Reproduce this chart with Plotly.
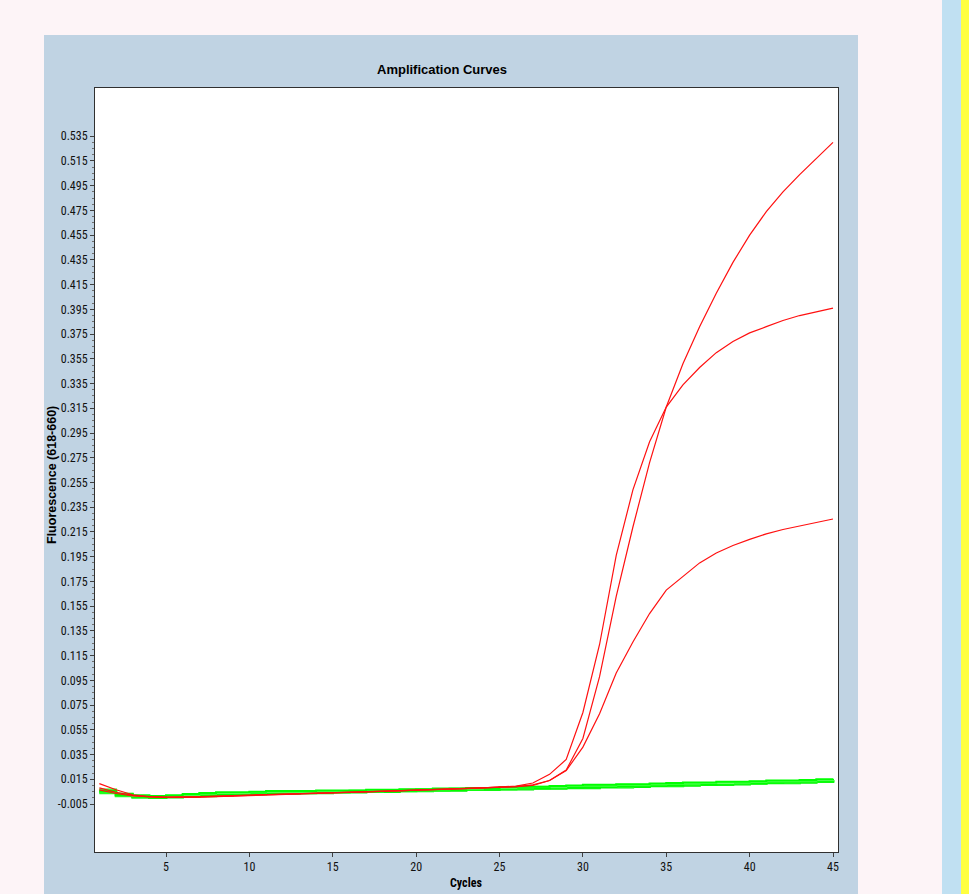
import plotly.graph_objects as go

cycles = list(range(1, 46))

red_a = [0.0065, 0.0035, 0.0015, 0.0007, 0.0003, 0.0005, 0.0008, 0.0012, 0.0018, 0.0022,
         0.0027, 0.0030, 0.0035, 0.0038, 0.0040, 0.0045, 0.0048, 0.0052, 0.0057, 0.0062,
         0.0066, 0.0070, 0.0075, 0.0080, 0.0085, 0.0090, 0.0100, 0.0140, 0.0225, 0.0480,
         0.0980, 0.1630, 0.2190, 0.2710, 0.3160, 0.3510, 0.3810, 0.4080, 0.4330, 0.4550,
         0.4740, 0.4900, 0.5040, 0.5170, 0.5300]
red_b = [0.0115, 0.0065, 0.0025, 0.0010, 0.0005, 0.0005, 0.0008, 0.0012, 0.0016, 0.0020,
         0.0025, 0.0030, 0.0033, 0.0037, 0.0040, 0.0043, 0.0047, 0.0050, 0.0055, 0.0060,
         0.0065, 0.0070, 0.0075, 0.0080, 0.0085, 0.0095, 0.0120, 0.0190, 0.0310, 0.0690,
         0.1240, 0.1960, 0.2490, 0.2880, 0.3160, 0.3340, 0.3480, 0.3600, 0.3690, 0.3760,
         0.3810, 0.3860, 0.3900, 0.3930, 0.3960]
red_c = [0.0080, 0.0045, 0.0020, 0.0008, 0.0003, 0.0003, 0.0006, 0.0010, 0.0015, 0.0020,
         0.0025, 0.0028, 0.0032, 0.0036, 0.0040, 0.0044, 0.0048, 0.0052, 0.0056, 0.0062,
         0.0068, 0.0072, 0.0076, 0.0080, 0.0085, 0.0090, 0.0105, 0.0140, 0.0220, 0.0410,
         0.0680, 0.1010, 0.1260, 0.1490, 0.1680, 0.1790, 0.1900, 0.1980, 0.2040, 0.2090,
         0.2135, 0.2170, 0.2200, 0.2230, 0.2255]

green_1 = [0.0070, 0.0035, 0.0015, 0.0010, 0.0015, 0.0025, 0.0035, 0.0040, 0.0040, 0.0045,
           0.0050, 0.0050, 0.0050, 0.0055, 0.0055, 0.0060, 0.0060, 0.0060, 0.0065, 0.0070,
           0.0070, 0.0075, 0.0075, 0.0080, 0.0080, 0.0085, 0.0090, 0.0090, 0.0095, 0.0100,
           0.0100, 0.0105, 0.0105, 0.0110, 0.0115, 0.0115, 0.0120, 0.0120, 0.0125, 0.0130,
           0.0135, 0.0135, 0.0140, 0.0145, 0.0150]
green_2 = [0.0055, 0.0025, 0.0010, 0.0005, 0.0010, 0.0015, 0.0025, 0.0030, 0.0035, 0.0035,
           0.0040, 0.0045, 0.0045, 0.0050, 0.0050, 0.0050, 0.0055, 0.0055, 0.0060, 0.0065,
           0.0065, 0.0065, 0.0070, 0.0075, 0.0075, 0.0080, 0.0080, 0.0085, 0.0085, 0.0090,
           0.0090, 0.0095, 0.0100, 0.0100, 0.0105, 0.0110, 0.0110, 0.0115, 0.0120, 0.0120,
           0.0125, 0.0130, 0.0135, 0.0140, 0.0145]
green_3 = [0.0045, 0.0020, 0.0005, 0.0000, 0.0005, 0.0010, 0.0015, 0.0020, 0.0025, 0.0030,
           0.0035, 0.0035, 0.0040, 0.0040, 0.0045, 0.0045, 0.0050, 0.0050, 0.0055, 0.0055,
           0.0060, 0.0060, 0.0065, 0.0065, 0.0070, 0.0070, 0.0075, 0.0075, 0.0080, 0.0080,
           0.0085, 0.0085, 0.0090, 0.0095, 0.0095, 0.0100, 0.0105, 0.0105, 0.0110, 0.0115,
           0.0120, 0.0120, 0.0125, 0.0130, 0.0140]
green_4 = [0.0060, 0.0030, 0.0020, 0.0015, 0.0020, 0.0030, 0.0040, 0.0045, 0.0045, 0.0050,
           0.0055, 0.0055, 0.0055, 0.0060, 0.0060, 0.0060, 0.0065, 0.0065, 0.0070, 0.0070,
           0.0075, 0.0075, 0.0080, 0.0080, 0.0085, 0.0090, 0.0090, 0.0095, 0.0100, 0.0105,
           0.0105, 0.0110, 0.0110, 0.0115, 0.0120, 0.0125, 0.0125, 0.0130, 0.0130, 0.0135,
           0.0140, 0.0140, 0.0145, 0.0150, 0.0155]
green_5 = [0.0040, 0.0015, 0.0005, 0.0005, 0.0010, 0.0020, 0.0020, 0.0025, 0.0030, 0.0035,
           0.0035, 0.0040, 0.0040, 0.0045, 0.0045, 0.0050, 0.0050, 0.0055, 0.0055, 0.0060,
           0.0060, 0.0065, 0.0065, 0.0070, 0.0070, 0.0075, 0.0080, 0.0080, 0.0085, 0.0085,
           0.0090, 0.0090, 0.0095, 0.0100, 0.0100, 0.0105, 0.0110, 0.0110, 0.0115, 0.0120,
           0.0125, 0.0125, 0.0130, 0.0135, 0.0145]

y_tick_values = [-0.005, 0.015, 0.035, 0.055, 0.075, 0.095, 0.115, 0.135, 0.155, 0.175,
                 0.195, 0.215, 0.235, 0.255, 0.275, 0.295, 0.315, 0.335, 0.355, 0.375,
                 0.395, 0.415, 0.435, 0.455, 0.475, 0.495, 0.515, 0.535]
y_tick_labels = ["-0.005", "0.015", "0.035", "0.055", "0.075", "0.095", "0.115", "0.135",
                 "0.155", "0.175", "0.195", "0.215", "0.235", "0.255", "0.275", "0.295",
                 "0.315", "0.335", "0.355", "0.375", "0.395", "0.415", "0.435", "0.455",
                 "0.475", "0.495", "0.515", "0.535"]
x_tick_values = [5, 10, 15, 20, 25, 30, 35, 40, 45]

NARROW = "Liberation Sans Narrow, Arial Narrow, Roboto Condensed, Noto Sans Condensed, Liberation Sans, Arial, sans-serif"
BOLD = "Liberation Sans, Arial, sans-serif"

fig = go.Figure()

greens = [(green_3, "#00EE00", 2.5), (green_5, "#22FF22", 2.5), (green_2, "#00FF00", 2.5),
          (green_1, "#66FF66", 2.0), (green_4, "#00FF00", 2.0)]
for ys, col, w in greens:
    fig.add_trace(go.Scatter(x=cycles, y=ys, mode="lines",
                             line=dict(color=col, width=w, shape="hv"),
                             hoverinfo="skip", showlegend=False))

for ys in (red_c, red_b, red_a):
    fig.add_trace(go.Scatter(x=cycles, y=ys, mode="lines",
                             line=dict(color="#FF1010", width=1.2),
                             hoverinfo="skip", showlegend=False))

W, H = 969, 894
L, R, T, B = 95, 838, 88, 852
pw, ph = R - L, B - T


def px(xp):
    return (xp - L) / pw


def py(yp):
    return (B - yp) / ph


shapes = [
    dict(type="rect", xref="paper", yref="paper", x0=px(44), x1=px(858), y0=py(894), y1=py(35),
         fillcolor="#C0D3E3", line=dict(width=0), layer="below"),
    dict(type="rect", xref="paper", yref="paper", x0=px(942), x1=px(961), y0=py(894), y1=py(0),
         fillcolor="#C0E0F2", line=dict(width=0), layer="below"),
    dict(type="rect", xref="paper", yref="paper", x0=px(961), x1=px(969), y0=py(894), y1=py(0),
         fillcolor="#FFFF40", line=dict(width=0), layer="below"),
    dict(type="rect", xref="paper", yref="paper", x0=0, x1=1, y0=0, y1=1,
         fillcolor="white", line=dict(width=0), layer="below"),
]

annotations = [
    dict(text="<b>Amplification Curves</b>", xref="paper", yref="paper", x=px(442), y=py(70),
         showarrow=False, xanchor="center", yanchor="middle",
         font=dict(family=BOLD, size=13, color="#000")),
    dict(text="<b>Fluorescence (618-660)</b>", xref="paper", yref="paper", x=px(52), y=py(475),
         showarrow=False, xanchor="center", yanchor="middle", textangle=-90,
         font=dict(family=BOLD, size=12.5, color="#000")),
    dict(text="<b>Cycles</b>", xref="paper", yref="paper", x=px(466), y=py(883),
         showarrow=False, xanchor="center", yanchor="middle",
         font=dict(family=NARROW, size=12, color="#000")),
]

minor_vals = []
for v in y_tick_values[:-1]:
    minor_vals += [v + 0.005, v + 0.010, v + 0.015]

fig.update_layout(
    width=W, height=H,
    margin=dict(l=L, r=W - R, t=T, b=H - B, pad=0),
    paper_bgcolor="#FDF4F7",
    plot_bgcolor="white",
    shapes=shapes,
    annotations=annotations,
    showlegend=False,
    xaxis=dict(range=[0.74, 45.3], tickvals=x_tick_values, ticks="outside", ticklen=4,
               tickcolor="#404040", showgrid=False, zeroline=False, showline=True,
               linecolor="#303030", linewidth=1, mirror=True,
               tickfont=dict(family=NARROW, size=12, color="#111")),
    yaxis=dict(range=[-0.0438, 0.574], tickvals=y_tick_values, ticktext=y_tick_labels,
               ticks="outside", ticklen=4, tickcolor="#404040", showgrid=False,
               zeroline=False, showline=True, linecolor="#303030", linewidth=1, mirror=True,
               tickfont=dict(family=NARROW, size=12, color="#111"),
               minor=dict(tickvals=minor_vals, ticks="outside",
                          ticklen=2, tickcolor="#707070")),
)

fig.write_html("out.html", config={"displayModeBar": False},
               post_script="document.body.style.margin='0';document.body.style.padding='0';document.body.style.overflow='hidden';")
